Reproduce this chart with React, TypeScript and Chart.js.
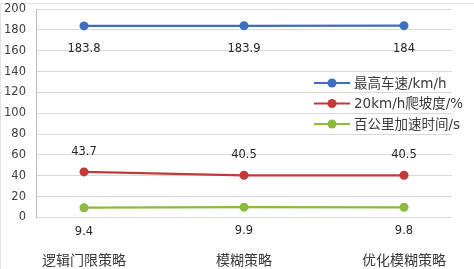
import React, { useEffect, useRef } from "react";
import { Chart, registerables } from "chart.js";

Chart.register(...registerables);

const categories = ["逻辑门限策略", "模糊策略", "优化模糊策略"];
const seriesNames = ["最高车速/km/h", "20km/h爬坡度/%", "百公里加速时间/s"];
const maxSpeed = [183.8, 183.9, 184];
const gradeability = [43.7, 40.5, 40.5];
const accelTime = [9.4, 9.9, 9.8];
const yTicks = [0, 20, 40, 60, 80, 100, 120, 140, 160, 180, 200];

const colors = ["#3D6FC0", "#C43A3A", "#8CBA3F"];
const labelOffsets = [23, -20, 24];
const NUM_FONT = '11.5px "DejaVu Sans", sans-serif';
const CJK_FONT = '14px "Noto Sans CJK SC", sans-serif';
const LEGEND_FONT = '13.5px "DejaVu Sans", "Noto Sans CJK SC", sans-serif';

const overlayPlugin = {
  id: "overlay",
  beforeDraw(chart: any) {
    const ctx = chart.ctx;
    ctx.save();
    ctx.strokeStyle = "#e3e3e3";
    ctx.lineWidth = 1;
    ctx.beginPath();
    ctx.moveTo(0, 3.5);
    ctx.lineTo(chart.width, 3.5);
    ctx.moveTo(0.5, 3.5);
    ctx.lineTo(0.5, chart.height);
    ctx.stroke();
    ctx.restore();
  },
  afterDraw(chart: any) {
    const ctx = chart.ctx;
    const xs = chart.scales.x;
    ctx.save();
    ctx.textAlign = "center";
    ctx.textBaseline = "middle";
    // data labels
    chart.data.datasets.forEach((ds: any, i: number) => {
      const meta = chart.getDatasetMeta(i);
      meta.data.forEach((pt: any, j: number) => {
        ctx.font = NUM_FONT;
        ctx.fillStyle = "#262626";
        ctx.fillText(String(ds.data[j].y), pt.x, pt.y + labelOffsets[i]);
      });
    });
    // category labels
    ctx.font = CJK_FONT;
    ctx.fillStyle = "#3a3a3a";
    categories.forEach((c, j) => {
      ctx.fillText(c, xs.getPixelForValue(j), 260);
    });
    // legend
    const lx0 = 314;
    const lx1 = 350;
    const rows = [83, 103.5, 124];
    ctx.textAlign = "left";
    seriesNames.forEach((name, i) => {
      const y = rows[i];
      ctx.strokeStyle = colors[i];
      ctx.lineWidth = 2.2;
      ctx.beginPath();
      ctx.moveTo(lx0, y);
      ctx.lineTo(lx1, y);
      ctx.stroke();
      ctx.fillStyle = colors[i];
      ctx.beginPath();
      ctx.arc((lx0 + lx1) / 2, y, 4.5, 0, Math.PI * 2);
      ctx.fill();
      ctx.font = LEGEND_FONT;
      ctx.fillStyle = "#3a3a3a";
      ctx.fillText(name, 354, y + 1);
    });
    ctx.restore();
  },
};

export default function App() {
  const ref = useRef<HTMLCanvasElement | null>(null);
  useEffect(() => {
    document.body.style.margin = "0";
    const canvas = ref.current;
    if (!canvas) return;
    const mk = (arr: number[]) => arr.map((v, i) => ({ x: i, y: v }));
    const all = [maxSpeed, gradeability, accelTime];
    const chart = new Chart(canvas, {
      type: "line",
      data: {
        datasets: all.map((arr, i) => ({
          label: seriesNames[i],
          data: mk(arr),
          borderColor: colors[i],
          backgroundColor: colors[i],
          pointBackgroundColor: colors[i],
          pointBorderColor: colors[i],
          pointRadius: 4.5,
          pointBorderWidth: 0,
          borderWidth: 2.2,
          tension: 0,
        })),
      },
      options: {
        responsive: false,
        animation: false,
        devicePixelRatio: 1,
        layout: { padding: { top: 9, right: 22, left: 0, bottom: 0 } },
        plugins: { legend: { display: false }, tooltip: { enabled: false } },
        scales: {
          x: {
            type: "linear",
            min: -0.3,
            max: 2.3,
            grid: { display: false },
            border: { display: false },
            ticks: { display: false },
            afterFit(scale: any) {
              scale.height = 51.5;
              scale.paddingLeft = 0;
              scale.paddingRight = 0;
            },
          },
          y: {
            min: 0,
            max: 200,
            afterBuildTicks(scale: any) {
              scale.ticks = yTicks.map((v) => ({ value: v }));
            },
            grid: { color: "#d9d9d9", lineWidth: 1, drawTicks: false },
            border: { color: "#bfbfbf", width: 1 },
            ticks: {
              padding: 10,
              color: "#404040",
              font: { family: '"DejaVu Sans", sans-serif', size: 11.5 },
            },
            afterFit(scale: any) {
              scale.width = 36;
              scale.paddingTop = 0;
              scale.paddingBottom = 0;
            },
          },
        },
      },
      plugins: [overlayPlugin],
    } as any);
    return () => chart.destroy();
  }, []);
  return (
    <div style={{ width: 474, height: 269 }}>
      <canvas ref={ref} width={474} height={269} />
    </div>
  );
}
